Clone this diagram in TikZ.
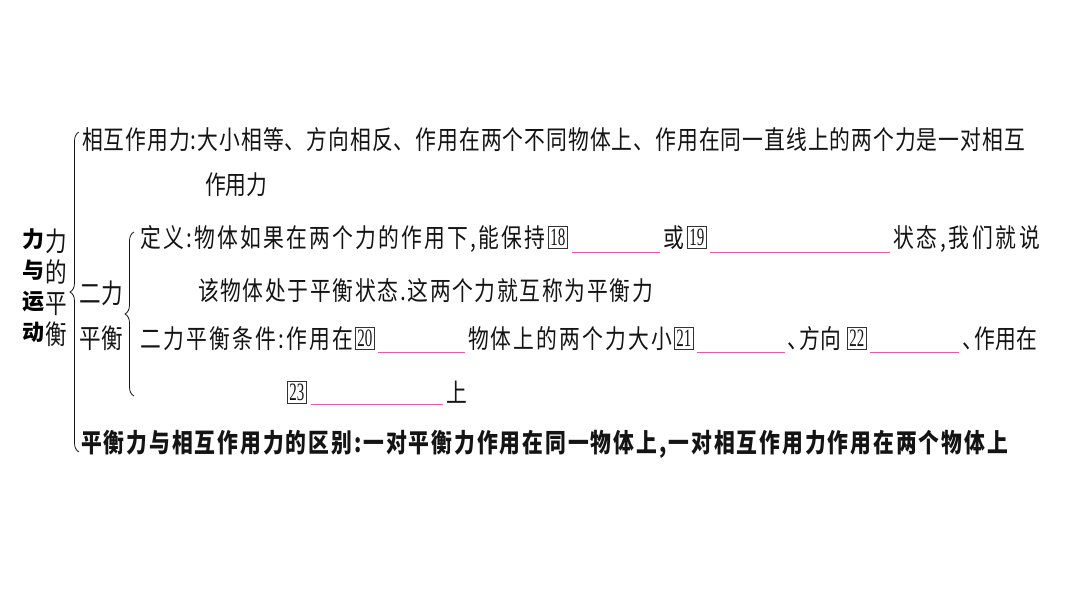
\documentclass[tikz,border=0pt]{standalone}
\usepackage{fontspec}
\usetikzlibrary{decorations.pathreplacing}
\newfontfamily\cjkf[FakeStretch=0.8]{Noto Sans CJK SC}
\newfontfamily\cjkw{Noto Sans CJK SC}
\newfontfamily\numf[FakeStretch=0.6]{Liberation Serif}
\definecolor{ink}{RGB}{20,20,20}
\definecolor{pinkc}{RGB}{232,90,168}
\definecolor{boxc}{RGB}{50,50,50}
\makeatletter
\newcommand\spreadchars[1]{\def\sc@flag{1}\@tfor\sc@c:=#1\do{\ifx\sc@flag\@empty\hfil\fi\sc@c\let\sc@flag\@empty}}
\newcommand\jst[2]{\makebox[#1][s]{\spreadchars{#2}}}
\makeatother
\begin{document}
\begin{tikzpicture}[x=1pt,y=-1pt,
  txt/.style={anchor=base west, inner sep=0pt, outer sep=0pt, text=ink, font=\cjkf\fontsize{26}{30}\selectfont},
  boldtxt/.style={txt, font=\cjkf\bfseries\fontsize{26}{30}\selectfont},
  lbl/.style={inner sep=0pt, text=ink, font=\cjkf\fontsize{27}{30}\selectfont},
  numbox/.style={draw=boxc, line width=0.7pt, inner sep=0.5pt, minimum width=19pt, minimum height=22pt, anchor=west, text=ink, font=\numf\fontsize{25}{25}\selectfont},
  blank/.style={draw=pinkc, line width=1.2pt},
  bracestyle/.style={decorate, decoration={brace, amplitude=9pt}, draw=ink, line width=0.8pt}]
\fill[white] (0,0) rectangle (1066,600);
\useasboundingbox (0,0) rectangle (1066,600);
% titles
\node[inner sep=0pt, align=center, text=black, font=\cjkw\bfseries\fontsize{22}{31}\selectfont] (title) at (34,286) {力\\与\\运\\动};
\node[inner sep=0pt, align=center, text=ink, font=\cjkf\fontsize{27}{31}\selectfont] (sub) at (56,288) {力\\的\\平\\衡};
% braces
\draw[bracestyle] (79,452) -- (79,132);
\draw[bracestyle] (134,396) -- (134,232);
% second level labels
\node[lbl] (el1) at (101,293) {二力};
\node[lbl] (el2) at (101,338) {平衡};
% row 1
\node[txt] (r1) at (82,149) {\jst{943pt}{相互作用力:大小相等、方向相反、作用在两个不同物体上、作用在同一直线上的两个力是一对相互}};
\node[txt] (r1b) at (205,194) {作用力};
% row 2
\node[txt] (r2a) at (140,247) {\jst{405pt}{定义:物体如果在两个力的作用下,能保持}};
\node[numbox] (b18) at (548,237) {18};
\draw[blank] (572,252.5) -- (660,252.5);
\node[txt] (r2b) at (663,247) {或};
\node[numbox] (b19) at (687,237) {19};
\draw[blank] (710,252.5) -- (890,252.5);
\node[txt] (r2c) at (893,247) {\jst{147pt}{状态,我们就说}};
\node[txt] (r2d) at (198,300) {\jst{455pt}{该物体处于平衡状态.这两个力就互称为平衡力}};
% row 3
\node[txt] (r3a) at (140,348) {\jst{213pt}{二力平衡条件:作用在}};
\node[numbox] (b20) at (355,338) {20};
\draw[blank] (378,352.5) -- (465,352.5);
\node[txt] (r3b) at (468,348) {\jst{204pt}{物体上的两个力大小}};
\node[numbox] (b21) at (674,338) {21};
\draw[blank] (697,352.5) -- (785,352.5);
\node[txt] (r3c) at (787,348) {、\kern-8pt 方向};
\node[numbox] (b22) at (847,338) {22};
\draw[blank] (870,352.5) -- (959,352.5);
\node[txt] (r3d) at (962,348) {、\kern-8pt 作用在};
\node[numbox] (b23) at (287,392) {23};
\draw[blank] (311,404.5) -- (443,404.5);
\node[txt] (r3e) at (446,402) {上};
% row 4
\node[boldtxt] (r4) at (81,452) {\jst{927pt}{平衡力与相互作用力的区别:一对平衡力作用在同一物体上,一对相互作用力作用在两个物体上}};
\end{tikzpicture}
\end{document}
